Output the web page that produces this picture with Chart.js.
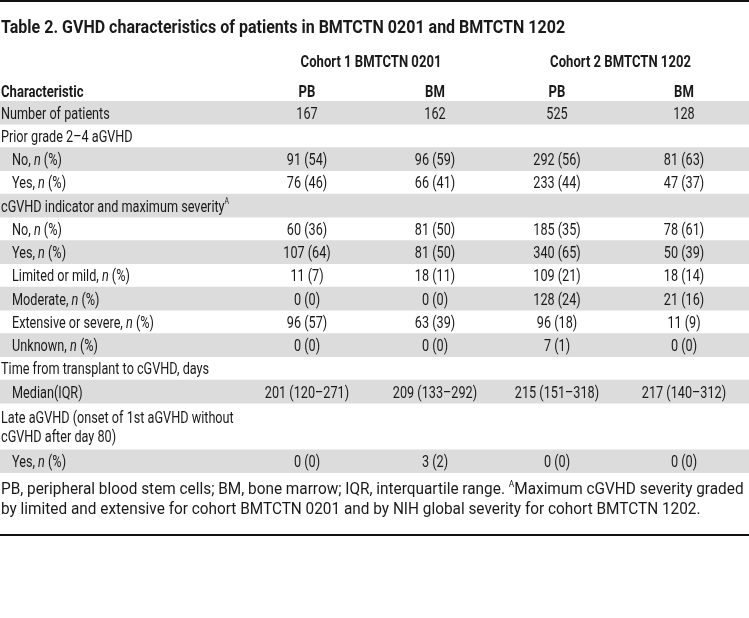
<!DOCTYPE html>
<html>
<head>
<meta charset="utf-8">
<script src="https://cdn.jsdelivr.net/npm/chart.js@4"></script>
<style>
  html, body { margin: 0; padding: 0; background: #fff; }
  #wrap { width: 749px; height: 618px; position: relative; }
</style>
</head>
<body>
<div id="wrap"><canvas id="tableChart"></canvas></div>
<script>
const title = 'Table 2. GVHD characteristics of patients in BMTCTN 0201 and BMTCTN 1202';
const cohorts = ['Cohort 1 BMTCTN 0201', 'Cohort 2 BMTCTN 1202'];
const subCols = ['PB', 'BM', 'PB', 'BM'];

// row labels (_x_ = italic, ^A = superscript, \n = second line in the next row)
const rowLabels = [
  'Number of patients',
  'Prior grade 2–4 aGVHD',
  'No, _n_ (%)',
  'Yes, _n_ (%)',
  'cGVHD indicator and maximum severity^A',
  'No, _n_ (%)',
  'Yes, _n_ (%)',
  'Limited or mild, _n_ (%)',
  'Moderate, _n_ (%)',
  'Extensive or severe, _n_ (%)',
  'Unknown, _n_ (%)',
  'Time from transplant to cGVHD, days',
  'Median(IQR)',
  'Late aGVHD (onset of 1st aGVHD without\ncGVHD after day 80)',
  '',
  'Yes, _n_ (%)'
];
const rowIndent = [0, 0, 1, 1, 0, 1, 1, 1, 1, 1, 1, 0, 1, 0, 0, 1];
const rowShade  = [1, 0, 1, 0, 1, 0, 1, 0, 1, 0, 1, 0, 1, 0, 0, 1];

// values per column
const c1PB = ['167', '', '91 (54)', '76 (46)', '', '60 (36)', '107 (64)', '11 (7)', '0 (0)', '96 (57)', '0 (0)', '', '201 (120–271)', '', '', '0 (0)'];
const c1BM = ['162', '', '96 (59)', '66 (41)', '', '81 (50)', '81 (50)', '18 (11)', '0 (0)', '63 (39)', '0 (0)', '', '209 (133–292)', '', '', '3 (2)'];
const c2PB = ['525', '', '292 (56)', '233 (44)', '', '185 (35)', '340 (65)', '109 (21)', '128 (24)', '96 (18)', '7 (1)', '', '215 (151–318)', '', '', '0 (0)'];
const c2BM = ['128', '', '81 (63)', '47 (37)', '', '78 (61)', '50 (39)', '18 (14)', '21 (16)', '11 (9)', '0 (0)', '', '217 (140–312)', '', '', '0 (0)'];

const footnote = [
  'PB, peripheral blood stem cells; BM, bone marrow; IQR, interquartile range. ^AMaximum cGVHD severity graded',
  'by limited and extensive for cohort BMTCTN 0201 and by NIH global severity for cohort BMTCTN 1202.'
];

// layout (x in table units = px)
const colX = [307, 435, 557, 684];
const tableW = 749;
const FONT = 'Roboto, "Liberation Sans", sans-serif';
const ink = '#1a1a1a';
const bandColor = '#dcdcdc';

const styles = {
  title: { size: 18, weight: 'bold', sx: 0.89 },
  head:  { size: 17, weight: 'bold', sx: 0.77 },
  body:  { size: 17, weight: 'normal', sx: 0.745 },
  note:  { size: 16, weight: 'normal', sx: 0.96 }
};

function parts(str) {
  return str.split(/(_[^_]+_|\^[A-Z])/).filter(s => s !== '').map(s => {
    if (s[0] === '_') return { t: s.slice(1, -1), it: true };
    if (s[0] === '^') return { t: s.slice(1), sup: true };
    return { t: s };
  });
}

function setFont(ctx, st, p) {
  const size = p.sup ? st.size * 0.55 : st.size;
  ctx.font = (p.it ? 'italic ' : '') + st.weight + ' ' + size + 'px ' + FONT;
}

function drawRich(ctx, str, x, y, st, align) {
  const ps = parts(str);
  ctx.save();
  ctx.translate(x, y);
  ctx.scale(st.sx, 1);
  let w = 0;
  ps.forEach(p => { setFont(ctx, st, p); p.w = ctx.measureText(p.t).width; w += p.w; });
  let cx = align === 'center' ? -w / 2 : 0;
  ctx.fillStyle = ink;
  ctx.textBaseline = 'alphabetic';
  ctx.textAlign = 'left';
  ps.forEach(p => {
    setFont(ctx, st, p);
    ctx.fillText(p.t, cx, p.sup ? -st.size * 0.42 : 0);
    cx += p.w;
  });
  ctx.restore();
}

const tableText = {
  id: 'tableText',
  afterDatasetsDraw(chart) {
    const { ctx, scales: { x, y }, chartArea } = chart;
    const top = chartArea.top;

    // rules
    ctx.save();
    ctx.fillStyle = '#111';
    ctx.fillRect(0, 0, tableW, 2);
    ctx.fillRect(0, 534, tableW, 2);
    ctx.restore();

    drawRich(ctx, title, x.getPixelForValue(1), top - 68, styles.title, 'left');
    cohorts.forEach((c, i) => {
      const cx = (x.getPixelForValue(colX[i * 2]) + x.getPixelForValue(colX[i * 2 + 1])) / 2;
      drawRich(ctx, c, cx, top - 34, styles.head, 'center');
    });
    drawRich(ctx, 'Characteristic', x.getPixelForValue(1), top - 4, styles.head, 'left');
    subCols.forEach((c, i) => drawRich(ctx, c, x.getPixelForValue(colX[i]), top - 4, styles.head, 'center'));

    const cols = [c1PB, c1BM, c2PB, c2BM];
    rowLabels.forEach((lab, i) => {
      const yc = y.getPixelForValue(i);
      if (lab) {
        const lines = lab.split('\n');
        const mid = lines.length > 1 ? (yc + y.getPixelForValue(i + lines.length - 1)) / 2 : yc;
        lines.forEach((ln, k) => {
          const ly = mid + (k - (lines.length - 1) / 2) * 19 + 6;
          drawRich(ctx, ln, x.getPixelForValue(rowIndent[i] ? 12 : 1), ly, styles.body, 'left');
        });
      }
      cols.forEach((col, j) => {
        if (col[i]) drawRich(ctx, col[i], x.getPixelForValue(colX[j]), yc + 6, styles.body, 'center');
      });
    });

    footnote.forEach((ln, k) => drawRich(ctx, ln, x.getPixelForValue(1), 494 + k * 20, styles.note, 'left'));
  }
};

const ctx = document.getElementById('tableChart').getContext('2d');
const tableChart = new Chart(ctx, {
  type: 'bar',
  data: {
    labels: rowLabels,
    datasets: [{
      data: rowLabels.map(() => [0, tableW]),
      backgroundColor: rowShade.map(s => s ? bandColor : 'rgba(0,0,0,0)'),
      borderWidth: 0,
      barPercentage: 1,
      categoryPercentage: 1
    }]
  },
  options: {
    indexAxis: 'y',
    responsive: true,
    maintainAspectRatio: false,
    animation: false,
    layout: { padding: { top: 101, bottom: 145, left: 0, right: 0 } },
    scales: {
      x: { type: 'linear', min: 0, max: tableW, display: false },
      y: { type: 'category', display: false, offset: true }
    },
    plugins: { legend: { display: false }, tooltip: { enabled: false } }
  },
  plugins: [tableText]
});
</script>
</body>
</html>
